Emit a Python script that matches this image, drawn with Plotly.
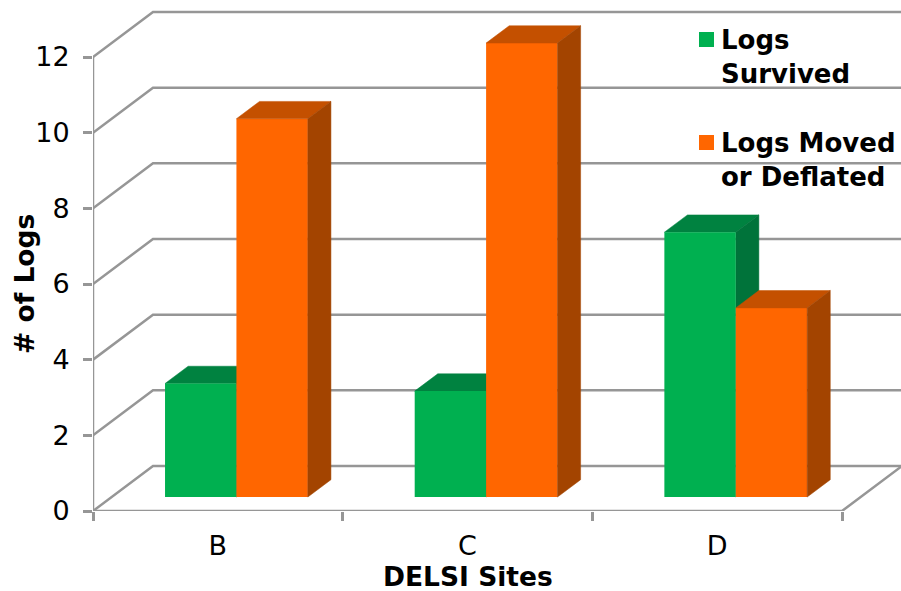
import plotly.graph_objects as go

# Chart content
sites = ["B", "C", "D"]
logs_survived = [3.0, 2.8, 7.0]
logs_moved = [10.0, 12.0, 5.0]
y_ticks = [0, 2, 4, 6, 8, 10, 12]

# Oblique projection used for the 3-D look: a point at depth d (0 = front, 1 = back)
# is shifted by d*DEPTH_X along x and d*DEPTH_Y along y.
DEPTH_X = 0.2403
DEPTH_Y = 1.19
BAR_WIDTH = 0.286
BAR_FRONT = 0.31
BAR_BACK = 0.695

GRID = "#969696"
GREEN = ("#00B050", "#008240", "#00733A")
ORANGE = ("#FF6600", "#C45000", "#A34400")
FONT = "DejaVu Sans"

X_MAX = 808 / 249.67
Y_MAX = 511 / 37.83


def project(x, y, depth):
    return x + depth * DEPTH_X, y + depth * DEPTH_Y


def polygon(points, color, xaxis, yaxis):
    xs, ys = zip(*points)
    return go.Scatter(
        x=list(xs) + [xs[0]], y=list(ys) + [ys[0]], mode="lines", fill="toself",
        fillcolor=color, line=dict(color=color, width=0.5), hoverinfo="skip",
        showlegend=False, xaxis=xaxis, yaxis=yaxis,
    )


def box_faces(left, value, colors, xaxis, yaxis):
    """Top and right-hand side faces of one bar."""
    right = left + BAR_WIDTH
    top = [project(left, value, BAR_FRONT), project(right, value, BAR_FRONT),
           project(right, value, BAR_BACK), project(left, value, BAR_BACK)]
    side = [project(right, 0, BAR_FRONT), project(right, value, BAR_FRONT),
            project(right, value, BAR_BACK), project(right, 0, BAR_BACK)]
    return [polygon(top, colors[1], xaxis, yaxis), polygon(side, colors[2], xaxis, yaxis)]


def px_x(px):
    return (px - 93) / 808


def px_y(px):
    return (511 - px) / 511


fig = go.Figure()
n = len(sites)

# Walls and floor gridlines
for v in y_ticks:
    bx, by = project(0, v, 1)
    ex, ey = project(n, v, 1)
    fig.add_trace(go.Scatter(x=[0, bx, ex], y=[v, by, ey], mode="lines",
                             line=dict(color=GRID, width=2.5), hoverinfo="skip", showlegend=False))
fx, fy = project(n, 0, 1)
fig.add_trace(go.Scatter(x=[0, n, fx], y=[0, 0, fy], mode="lines",
                         line=dict(color=GRID, width=2.5), hoverinfo="skip", showlegend=False))
fig.add_trace(go.Scatter(x=[0, 0], y=[0, max(y_ticks)], mode="lines",
                         line=dict(color=GRID, width=2.5), hoverinfo="skip", showlegend=False))

# Green top/side faces stay beneath the front faces of the orange bars
for i, value in enumerate(logs_survived):
    fig.add_traces(box_faces(i + 0.5 - BAR_WIDTH, value, GREEN, "x", "y"))

# Front faces are real bars, lifted and shifted to the front plane of the boxes
base_shift_x, base_shift_y = project(0, 0, BAR_FRONT)
centers = [i + 0.5 + base_shift_x for i in range(n)]
fig.add_trace(go.Bar(name="Logs Survived", x=[c - BAR_WIDTH / 2 for c in centers], y=logs_survived,
                     base=base_shift_y, width=BAR_WIDTH, marker=dict(color=GREEN[0], line=dict(width=0)),
                     xaxis="x2", yaxis="y2", showlegend=False))
fig.add_trace(go.Bar(name="Logs Moved or Deflated", x=[c + BAR_WIDTH / 2 for c in centers], y=logs_moved,
                     base=base_shift_y, width=BAR_WIDTH, marker=dict(color=ORANGE[0], line=dict(width=0)),
                     xaxis="x2", yaxis="y2", showlegend=False))
for i, value in enumerate(logs_moved):
    fig.add_traces(box_faces(i + 0.5, value, ORANGE, "x2", "y2"))

# Axis titles
annotations = [
    dict(text="<b>DELSI Sites</b>", xref="paper", yref="paper", x=px_x(468), y=px_y(577),
         showarrow=False, xanchor="center", yanchor="middle",
         font=dict(family=FONT, size=26.5, color="black")),
    dict(text="<b># of Logs</b>", xref="paper", yref="paper", x=px_x(24), y=px_y(284),
         showarrow=False, xanchor="center", yanchor="middle", textangle=-90,
         font=dict(family=FONT, size=26.5, color="black")),
]

# Legend entries
legend_items = [("Logs<br>Survived", GREEN[0], 39), ("Logs Moved<br>or Deflated", ORANGE[0], 142)]
shapes = []
for label, color, y in legend_items:
    annotations.append(dict(text="<b>%s</b>" % label, xref="paper", yref="paper",
                            x=px_x(719), y=px_y(y - 16), showarrow=False,
                            xanchor="left", yanchor="top", align="left",
                            font=dict(family=FONT, size=26, color="black")))
    shapes.append(dict(type="rect", xref="paper", yref="paper", x0=px_x(699), x1=px_x(714),
                       y0=px_y(y - 7), y1=px_y(y + 8), fillcolor=color, line=dict(width=0)))

fig.update_layout(
    width=901, height=591, margin=dict(l=93, r=0, t=0, b=80),
    paper_bgcolor="white", plot_bgcolor="white", barmode="overlay", showlegend=False,
    font=dict(family=FONT, size=27, color="black"),
    annotations=annotations, shapes=shapes,
    xaxis=dict(range=[0, X_MAX], showgrid=False, zeroline=False, showline=False,
               tickvals=[i + 0.5 for i in range(n)], ticktext=sites, ticks="",
               ticklabelstandoff=16,
               minor=dict(tickvals=list(range(n + 1)), ticks="outside", ticklen=9, tickwidth=2.5, tickcolor=GRID)),
    yaxis=dict(range=[0, Y_MAX], showgrid=False, zeroline=False, showline=False,
               tickvals=y_ticks, ticks="outside", ticklen=9, tickwidth=2.5, tickcolor=GRID,
               ticklabelstandoff=8),
    xaxis2=dict(range=[0, X_MAX], overlaying="x", anchor="y2", visible=False),
    yaxis2=dict(range=[0, Y_MAX], overlaying="y", anchor="x2", visible=False),
)

fig.write_html("out.html")
